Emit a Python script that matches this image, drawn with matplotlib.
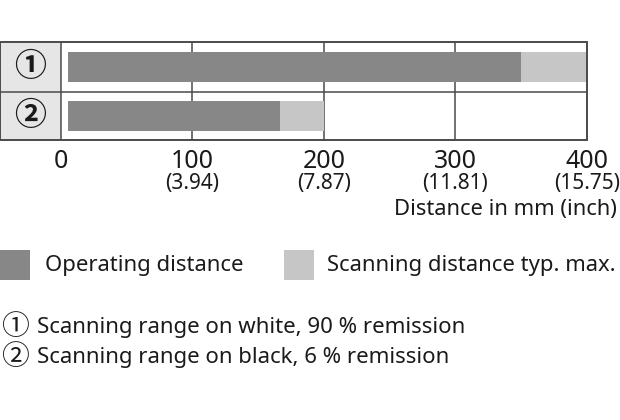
import matplotlib
matplotlib.use('Agg')
import matplotlib.pyplot as plt
from matplotlib.patches import Rectangle
from matplotlib.transforms import blended_transform_factory

# distances in mm
rows = ["\u2460", "\u2461"]
bar_start = [6, 6]
operating = [350, 167]
scanning_max = [400, 200]
ticks_mm = [0, 100, 200, 300, 400]
ticks_inch = ["", "(3.94)", "(7.87)", "(11.81)", "(15.75)"]
legend_labels = ["Operating distance", "Scanning distance typ. max."]
notes = ["Scanning range on white, 90 % remission",
         "Scanning range on black, 6 % remission"]

DARK = "#878787"
LIGHT = "#c6c6c6"
LABEL_BG = "#e6e6e6"
LINE = "#4a4a4a"
TXT = "#1a1a1a"

plt.rcParams['font.family'] = ['Noto Sans', 'Noto Sans CJK JP', 'DejaVu Sans']
CIRC_FONT = ['Noto Sans CJK JP', 'DejaVu Sans']

W, H = 620, 420
fig = plt.figure(figsize=(W / 100, H / 100), dpi=100)

# table area in pixels
left_px, right_px, top_px, bot_px = 0.5, 587.0, 42.5, 140.5
zero_px, scale = 60.5, (587.0 - 60.5) / 400
ax = fig.add_axes([left_px / W, 1 - bot_px / H, (right_px - left_px) / W, (bot_px - top_px) / H])
xmin = (left_px - zero_px) / scale
ax.set_xlim(xmin, 400)
ax.set_ylim(2, 0)
ax.axis('off')

# label column
ax.add_patch(Rectangle((xmin, 0), -xmin, 2, facecolor=LABEL_BG, edgecolor='none', zorder=0))

for i, lab in enumerate(rows):
    yc = i + 0.5
    ax.barh(yc, operating[i] - bar_start[i], left=bar_start[i], height=0.61, color=DARK, zorder=2)
    ax.barh(yc, scanning_max[i] - operating[i], left=operating[i], height=0.61, color=LIGHT, zorder=2)
    ax.text(xmin / 2, yc, lab, ha='center', va='center', fontsize=23, fontweight='bold',
            family=CIRC_FONT, color=TXT)

# grid lines
for t in ticks_mm[1:-1]:
    ax.plot([t, t], [0, 2], color=LINE, lw=1.1, zorder=1)
ax.plot([0, 0], [0, 2], color=LINE, lw=1.1, zorder=3)
ax.plot([xmin, 400], [1.02, 1.02], color=LINE, lw=1.1, zorder=3)
ax.add_patch(Rectangle((xmin, 0), 400 - xmin, 2, facecolor='none', edgecolor=LINE, lw=1.4, zorder=4,
                       clip_on=False))

# tick labels
tr = blended_transform_factory(ax.transData, fig.transFigure)
for t, inch in zip(ticks_mm, ticks_inch):
    ax.text(t, 1 - 161 / H, str(t), transform=tr, ha='center', va='center', fontsize=18, color=TXT)
    if inch:
        ax.text(t, 1 - 184 / H, inch, transform=tr, ha='center', va='center', fontsize=15, color=TXT)
fig.text(617 / W, 1 - 209 / H, "Distance in mm (inch)", ha='right', va='center', fontsize=15.8, color=TXT)

# legend
for x0, col, lab, tx in [(0, DARK, legend_labels[0], 45), (284, LIGHT, legend_labels[1], 327)]:
    fig.add_artist(Rectangle((x0 / W, 1 - 280 / H), 30 / W, 30 / H, transform=fig.transFigure,
                             facecolor=col, edgecolor='none'))
    fig.text(tx / W, 1 - 265 / H, lab, ha='left', va='center', fontsize=15.9, color=TXT)

# notes
for k, note in enumerate(notes):
    y = 1 - (327 + 30 * k) / H
    fig.text(1 / W, y, rows[k], ha='left', va='center', fontsize=20, color=TXT, family=CIRC_FONT)
    fig.text(37 / W, y, note, ha='left', va='center', fontsize=16, color=TXT)

fig.savefig("out.png", dpi=100)
